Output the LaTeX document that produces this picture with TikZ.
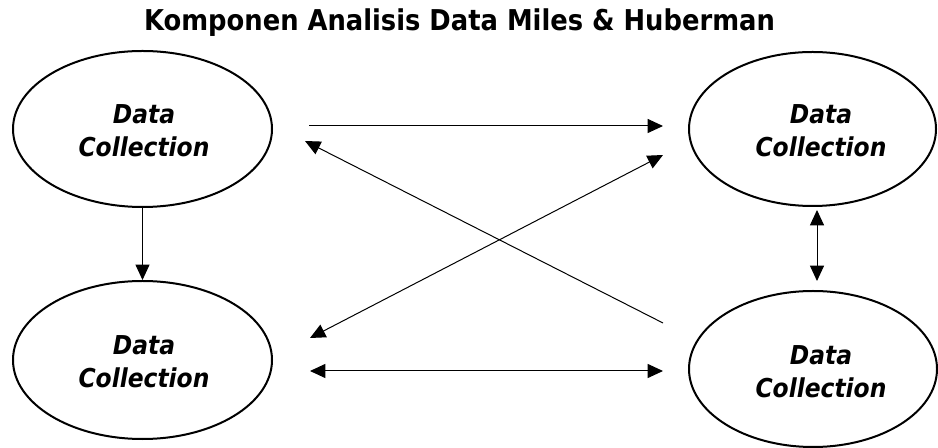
\documentclass[tikz,border=0pt]{standalone}
\usepackage{fontspec}
\setmainfont{DejaVu Sans}
\newfontfamily\condfont{DejaVu Sans Condensed}
\usetikzlibrary{shapes.geometric,arrows.meta}

\tikzset{
  ell/.style={draw, ellipse, line width=1.5pt, inner sep=0pt},
  lbl/.style={align=center, font=\condfont\bfseries\itshape\fontsize{19.5pt}{24.75pt}\selectfont},
  heading/.style={font=\condfont\bfseries\fontsize{21.5pt}{25pt}\selectfont, anchor=base},
  arr/.style={line width=0.75pt, -{Triangle[length=11.5pt,width=10.5pt]}},
  darr/.style={line width=0.75pt, {Triangle[length=11.5pt,width=10.5pt]}-{Triangle[length=11.5pt,width=10.5pt]}}
}

\begin{document}
\begin{tikzpicture}[x=0.75pt,y=-0.75pt]
  \useasboundingbox (0,0) rectangle (938,448);

  % title
  \node[heading] (title) at (459.5,31) {Komponen Analisis Data Miles \& Huberman};

  % the four ellipses
  \node[ell, minimum width=194.25pt, minimum height=117pt] (A) at (142.5,129) {};
  \node[ell, minimum width=185.25pt, minimum height=115.5pt] (B) at (812.5,129) {};
  \node[ell, minimum width=194.25pt, minimum height=118.5pt] (C) at (142.5,360) {};
  \node[ell, minimum width=186pt, minimum height=117pt] (D) at (813,369) {};

  % their labels
  \node[lbl] (At) at (144,131) {Data\\Collection};
  \node[lbl] (Bt) at (821,131) {Data\\Collection};
  \node[lbl] (Ct) at (144,361.5) {Data\\Collection};
  \node[lbl] (Dt) at (821,372) {Data\\Collection};

  % loose ends of the connectors
  \coordinate (p1) at (309,126);
  \coordinate (p2) at (663,126);
  \coordinate (p3) at (663,323);
  \coordinate (p4) at (305,141);
  \coordinate (p5) at (310,338);
  \coordinate (p6) at (663,155);
  \coordinate (p7) at (310,371);
  \coordinate (p8) at (663,371);
  \coordinate (p9) at (817,210);
  \coordinate (p10) at (817,281);

  % connectors
  \draw[arr] (A.south) -- (C.north);
  \draw[arr] (p1) -- (p2);
  \draw[arr] (p3) -- (p4);
  \draw[darr] (p5) -- (p6);
  \draw[darr] (p7) -- (p8);
  \draw[darr] (p9) -- (p10);
\end{tikzpicture}
\end{document}
